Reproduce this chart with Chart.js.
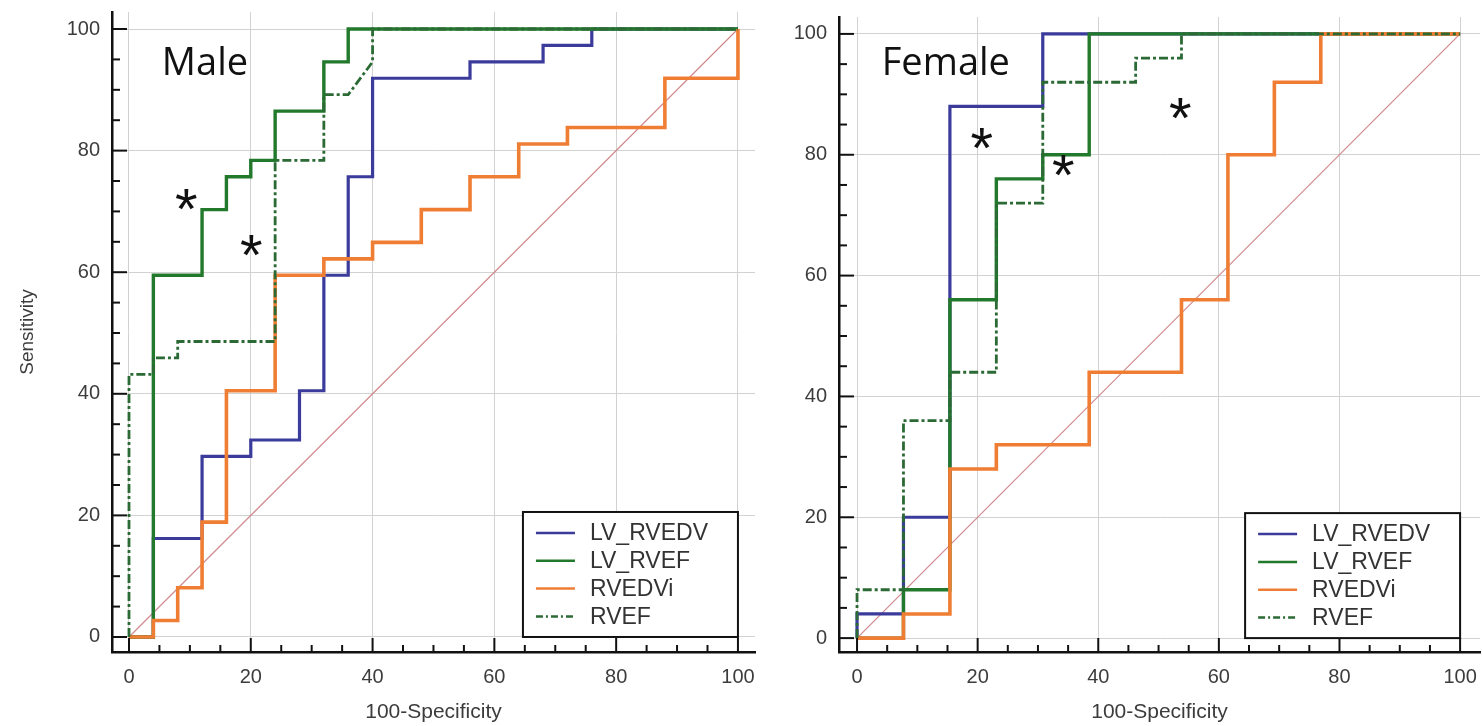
<!DOCTYPE html>
<html>
<head>
<meta charset="utf-8">
<title>ROC curves - Male / Female</title>
<script src="https://cdn.jsdelivr.net/npm/chart.js@4.4.1/dist/chart.umd.min.js"></script>
<style>
  html, body { margin: 0; padding: 0; background: #fff; }
  #wrap { position: relative; width: 1482px; height: 726px; overflow: hidden; }
  canvas { position: absolute; top: 0; }
  #maleChart { left: 0; }
  #femaleChart { left: 760px; }
</style>
</head>
<body>
<div id="wrap">
  <canvas id="maleChart" width="760" height="726"></canvas>
  <canvas id="femaleChart" width="722" height="726"></canvas>
</div>
<script>
/* ROC curves, 100-Specificity vs Sensitivity, male and female panels */

const SERIES_NAMES = ['LV_RVEDV', 'LV_RVEF', 'RVEDVi', 'RVEF'];
const AXIS_TICKS   = [0, 20, 40, 60, 80, 100];
const DIAG_X       = [0, 100];
const DIAG_Y       = [0, 100];

// Male curves (corner points of each step curve)
const MALE_LV_RVEDV_X = [0, 4, 4, 12, 12, 20, 20, 28, 28, 32, 32, 36, 36, 40, 40, 56, 56, 68, 68, 76, 76, 100];
const MALE_LV_RVEDV_Y = [0, 0, 16.2, 16.2, 29.7, 29.7, 32.4, 32.4, 40.5, 40.5, 59.5, 59.5, 75.7, 75.7, 91.9, 91.9, 94.6, 94.6, 97.3, 97.3, 100, 100];
const MALE_LV_RVEF_X  = [0, 4, 4, 12, 12, 16, 16, 20, 20, 24, 24, 32, 32, 36, 36, 100];
const MALE_LV_RVEF_Y  = [0, 0, 59.5, 59.5, 70.3, 70.3, 75.7, 75.7, 78.4, 78.4, 86.5, 86.5, 94.6, 94.6, 100, 100];
const MALE_RVEDVI_X   = [0, 4, 4, 8, 8, 12, 12, 16, 16, 24, 24, 32, 32, 40, 40, 48, 48, 56, 56, 64, 64, 72, 72, 88, 88, 100, 100];
const MALE_RVEDVI_Y   = [0, 0, 2.7, 2.7, 8.1, 8.1, 18.9, 18.9, 40.5, 40.5, 59.5, 59.5, 62.2, 62.2, 64.9, 64.9, 70.3, 70.3, 75.7, 75.7, 81.1, 81.1, 83.8, 83.8, 91.9, 91.9, 100];
const MALE_RVEF_X     = [0, 0, 4, 4, 8, 8, 24, 24, 32, 32, 36, 40, 40, 100];
const MALE_RVEF_Y     = [0, 43.2, 43.2, 45.9, 45.9, 48.6, 48.6, 78.4, 78.4, 89.2, 89.2, 94.6, 100, 100];

// Female curves
const FEMALE_LV_RVEDV_X = [0, 0, 7.7, 7.7, 15.4, 15.4, 30.8, 30.8, 100];
const FEMALE_LV_RVEDV_Y = [0, 4, 4, 20, 20, 88, 88, 100, 100];
const FEMALE_LV_RVEF_X  = [0, 7.7, 7.7, 15.4, 15.4, 23.1, 23.1, 30.8, 30.8, 38.5, 38.5, 100];
const FEMALE_LV_RVEF_Y  = [0, 0, 8, 8, 56, 56, 76, 76, 80, 80, 100, 100];
const FEMALE_RVEDVI_X   = [0, 7.7, 7.7, 15.4, 15.4, 23.1, 23.1, 38.5, 38.5, 53.8, 53.8, 61.5, 61.5, 69.2, 69.2, 76.9, 76.9, 100];
const FEMALE_RVEDVI_Y   = [0, 0, 4, 4, 28, 28, 32, 32, 44, 44, 56, 56, 80, 80, 92, 92, 100, 100];
const FEMALE_RVEF_X     = [0, 0, 7.7, 7.7, 15.4, 15.4, 23.1, 23.1, 30.8, 30.8, 46.2, 46.2, 53.8, 53.8, 100];
const FEMALE_RVEF_Y     = [0, 8, 8, 36, 36, 44, 44, 72, 72, 92, 92, 96, 96, 100, 100];

// significance marks (x, y in axis units)
const MALE_STARS   = [[9.4, 72.0], [20.1, 64.4]];
const FEMALE_STARS = [[20.7, 82.7], [34.2, 78.3], [53.6, 87.8]];

// styles
const SERIES_COLORS = ['#3b3b9c', '#22782b', '#ef7e34', '#2b6a35'];
const SERIES_WIDTHS = [3.2, 3.4, 3.6, 2.8];
const SERIES_DASHES = [[], [], [], [9, 3, 3, 3]];
const SERIES_ORDER  = [3, 2, 1, 0];
const TEXT_GRAY     = '#3c3c3c';

Chart.defaults.font.family = "'Liberation Sans', Arial, sans-serif";

function toPoints(xs, ys) {
  return xs.map((x, i) => ({ x, y: ys[i] }));
}

function buildDatasets(curves) {
  const sets = curves.map(([xs, ys], i) => ({
    label: SERIES_NAMES[i],
    data: toPoints(xs, ys),
    borderColor: SERIES_COLORS[i],
    borderWidth: SERIES_WIDTHS[i],
    borderDash: SERIES_DASHES[i],
    pointRadius: 0,
    tension: 0,
    fill: false,
    order: SERIES_ORDER[i],
    inLegend: true
  }));
  sets.unshift({
    label: 'diag',
    data: toPoints(DIAG_X, DIAG_Y),
    borderColor: '#d08a8e',
    borderWidth: 1.2,
    pointRadius: 0,
    fill: false,
    order: 9,
    inLegend: false
  });
  return sets;
}

function strokeLine(ctx, x1, y1, x2, y2) {
  ctx.beginPath();
  ctx.moveTo(x1, y1);
  ctx.lineTo(x2, y2);
  ctx.stroke();
}

function drawLegend(chart) {
  const ctx = chart.ctx;
  const right  = chart.scales.x.getPixelForValue(100);
  const bottom = chart.scales.y.getPixelForValue(0);
  const w = 215, h = 125;
  const left = right - w, top = bottom - h;

  ctx.fillStyle = '#fff';
  ctx.fillRect(left, top, w, h);
  ctx.setLineDash([]);
  ctx.strokeStyle = '#111';
  ctx.lineWidth = 2;
  ctx.strokeRect(left, top, w, h);

  ctx.font = "23px 'Liberation Sans', Arial, sans-serif";
  ctx.textAlign = 'left';
  ctx.textBaseline = 'middle';
  chart.data.datasets.filter(d => d.inLegend).forEach((ds, i) => {
    const y = top + 21 + i * 27.8;
    ctx.strokeStyle = ds.borderColor;
    ctx.lineWidth = 2.5;
    ctx.setLineDash(ds.borderDash.length ? [7, 3, 2, 3] : []);
    strokeLine(ctx, left + 13, y, left + 52, y);
    ctx.setLineDash([]);
    ctx.fillStyle = '#333';
    ctx.fillText(ds.label, left + 67, y + 1);
  });
}

const rocDecor = {
  id: 'rocDecor',
  afterDatasetsDraw(chart, args, opts) {
    const ctx = chart.ctx;
    const xs = chart.scales.x, ys = chart.scales.y;
    const area = chart.chartArea;
    ctx.save();

    // inward ticks, every 5 units, long ones on the labelled values
    ctx.strokeStyle = '#111';
    ctx.lineWidth = 2;
    for (let v = 0; v <= 100; v += 5) {
      const major = AXIS_TICKS.includes(v);
      const px = xs.getPixelForValue(v);
      const py = ys.getPixelForValue(v);
      strokeLine(ctx, px, area.bottom, px, area.bottom - (major ? 14 : 7));
      strokeLine(ctx, area.left, py, area.left + (major ? 15 : 8), py);
    }

    // panel name
    ctx.fillStyle = '#111';
    ctx.font = "38px 'Open Sans', 'Liberation Sans', sans-serif";
    ctx.textAlign = 'left';
    ctx.textBaseline = 'alphabetic';
    ctx.fillText(opts.label, xs.getPixelForValue(opts.labelAt[0]), ys.getPixelForValue(opts.labelAt[1]));

    // asterisks
    ctx.font = "58px 'Liberation Sans', Arial, sans-serif";
    ctx.textAlign = 'center';
    opts.stars.forEach(([sx, sy]) => {
      ctx.fillText('*', xs.getPixelForValue(sx), ys.getPixelForValue(sy) + 30);
    });

    drawLegend(chart);
    ctx.restore();
  }
};

function buildChart(canvasId, curves, panel) {
  return new Chart(document.getElementById(canvasId), {
    type: 'line',
    data: { datasets: buildDatasets(curves) },
    plugins: [rocDecor],
    options: {
      responsive: false,
      animation: false,
      layout: { padding: { left: 0, right: panel.padRight, top: panel.padTop, bottom: 0 } },
      plugins: {
        legend: { display: false },
        tooltip: { enabled: false },
        rocDecor: { label: panel.label, labelAt: panel.labelAt, stars: panel.stars }
      },
      scales: {
        x: {
          type: 'linear',
          min: panel.xMin,
          max: panel.xMax,
          afterBuildTicks: s => { s.ticks = AXIS_TICKS.map(v => ({ value: v })); },
          afterFit: s => { s.height = 74; s.paddingLeft = 0; s.paddingRight = 0; },
          grid: { color: '#d2d2d2', lineWidth: 1, drawTicks: false },
          border: { color: '#111', width: 2.5 },
          ticks: { padding: 13, color: TEXT_GRAY, maxRotation: 0, font: { size: 20 } },
          title: {
            display: true, text: '100-Specificity', color: TEXT_GRAY,
            font: { size: 21 }, padding: { top: 0, bottom: 1 }
          }
        },
        y: {
          type: 'linear',
          min: panel.yMin,
          max: panel.yMax,
          afterBuildTicks: s => { s.ticks = AXIS_TICKS.map(v => ({ value: v })); },
          afterFit: s => { s.width = panel.axisW; s.paddingTop = 0; s.paddingBottom = 0; },
          grid: { color: '#d2d2d2', lineWidth: 1, drawTicks: false },
          border: { color: '#111', width: 2.5 },
          ticks: { padding: 12, color: TEXT_GRAY, font: { size: 20 } },
          title: {
            display: panel.yTitle, text: 'Sensitivity', color: TEXT_GRAY,
            font: { size: 19 }, padding: { top: 16, bottom: 0 }
          }
        }
      }
    }
  });
}

document.addEventListener('DOMContentLoaded', () => {
  buildChart('maleChart', [
    [MALE_LV_RVEDV_X, MALE_LV_RVEDV_Y],
    [MALE_LV_RVEF_X, MALE_LV_RVEF_Y],
    [MALE_RVEDVI_X, MALE_RVEDVI_Y],
    [MALE_RVEF_X, MALE_RVEF_Y]
  ], {
    label: 'Male', labelAt: [5.4, 92.4], stars: MALE_STARS,
    xMin: -2.79, xMax: 102.8, yMin: -2.47, yMax: 102.8,
    axisW: 112, padRight: 5, padTop: 12, yTitle: true
  });

  buildChart('femaleChart', [
    [FEMALE_LV_RVEDV_X, FEMALE_LV_RVEDV_Y],
    [FEMALE_LV_RVEF_X, FEMALE_LV_RVEF_Y],
    [FEMALE_RVEDVI_X, FEMALE_RVEDVI_Y],
    [FEMALE_RVEF_X, FEMALE_RVEF_Y]
  ], {
    label: 'Female', labelAt: [4.1, 93.2], stars: FEMALE_STARS,
    xMin: -2.99, xMax: 103.3, yMin: -2.3, yMax: 102.8,
    axisW: 79, padRight: 2, padTop: 17, yTitle: false
  });
});
</script>
</body>
</html>
